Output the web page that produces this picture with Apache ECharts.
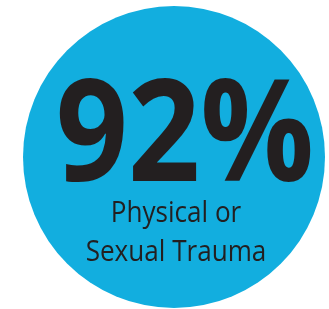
<!DOCTYPE html>
<html>
<head>
<meta charset="utf-8">
<script src="https://cdn.jsdelivr.net/npm/echarts@6/dist/echarts.min.js"></script>
<style>
  html, body { margin: 0; padding: 0; background: #fff; }
  #chart { width: 329px; height: 309px; }
</style>
</head>
<body>
<div id="chart"></div>
<script>
// the one figure shown, and the words under it
const percentValue = [92];
const captionLines = ["Physical or", "Sexual Trauma"];

var myChart = echarts.init(document.getElementById("chart"));

var option = {
    animation: false,
    series: [
        {
            type: "pie",
            center: [174, 157],
            radius: [0, 151],
            silent: true,
            z: 1,
            label: { show: false },
            itemStyle: { color: "#12aedf" },
            data: percentValue.map(function (v) { return { value: v, name: captionLines.join(" ") }; })
        }
    ],
    graphic: [
        {
            type: "text",
            z: 100,
            x: 185,
            y: 141,
            scaleX: 0.89,
            style: {
                text: percentValue[0] + "%",
                fontFamily: "Open Sans",
                fontWeight: "bold",
                fontSize: 142,
                fill: "#231f20",
                textAlign: "center",
                textVerticalAlign: "middle"
            }
        },
        {
            type: "text",
            z: 100,
            x: 176,
            y: 214,
            scaleX: 0.9,
            style: {
                text: captionLines[0],
                fontFamily: "Open Sans",
                fontSize: 29,
                fill: "#231f20",
                textAlign: "center",
                textVerticalAlign: "middle"
            }
        },
        {
            type: "text",
            z: 100,
            x: 176,
            y: 253,
            scaleX: 0.9,
            style: {
                text: captionLines[1],
                fontFamily: "Open Sans",
                fontSize: 29,
                fill: "#231f20",
                textAlign: "center",
                textVerticalAlign: "middle"
            }
        }
    ]
};

myChart.setOption(option);
</script>
</body>
</html>
